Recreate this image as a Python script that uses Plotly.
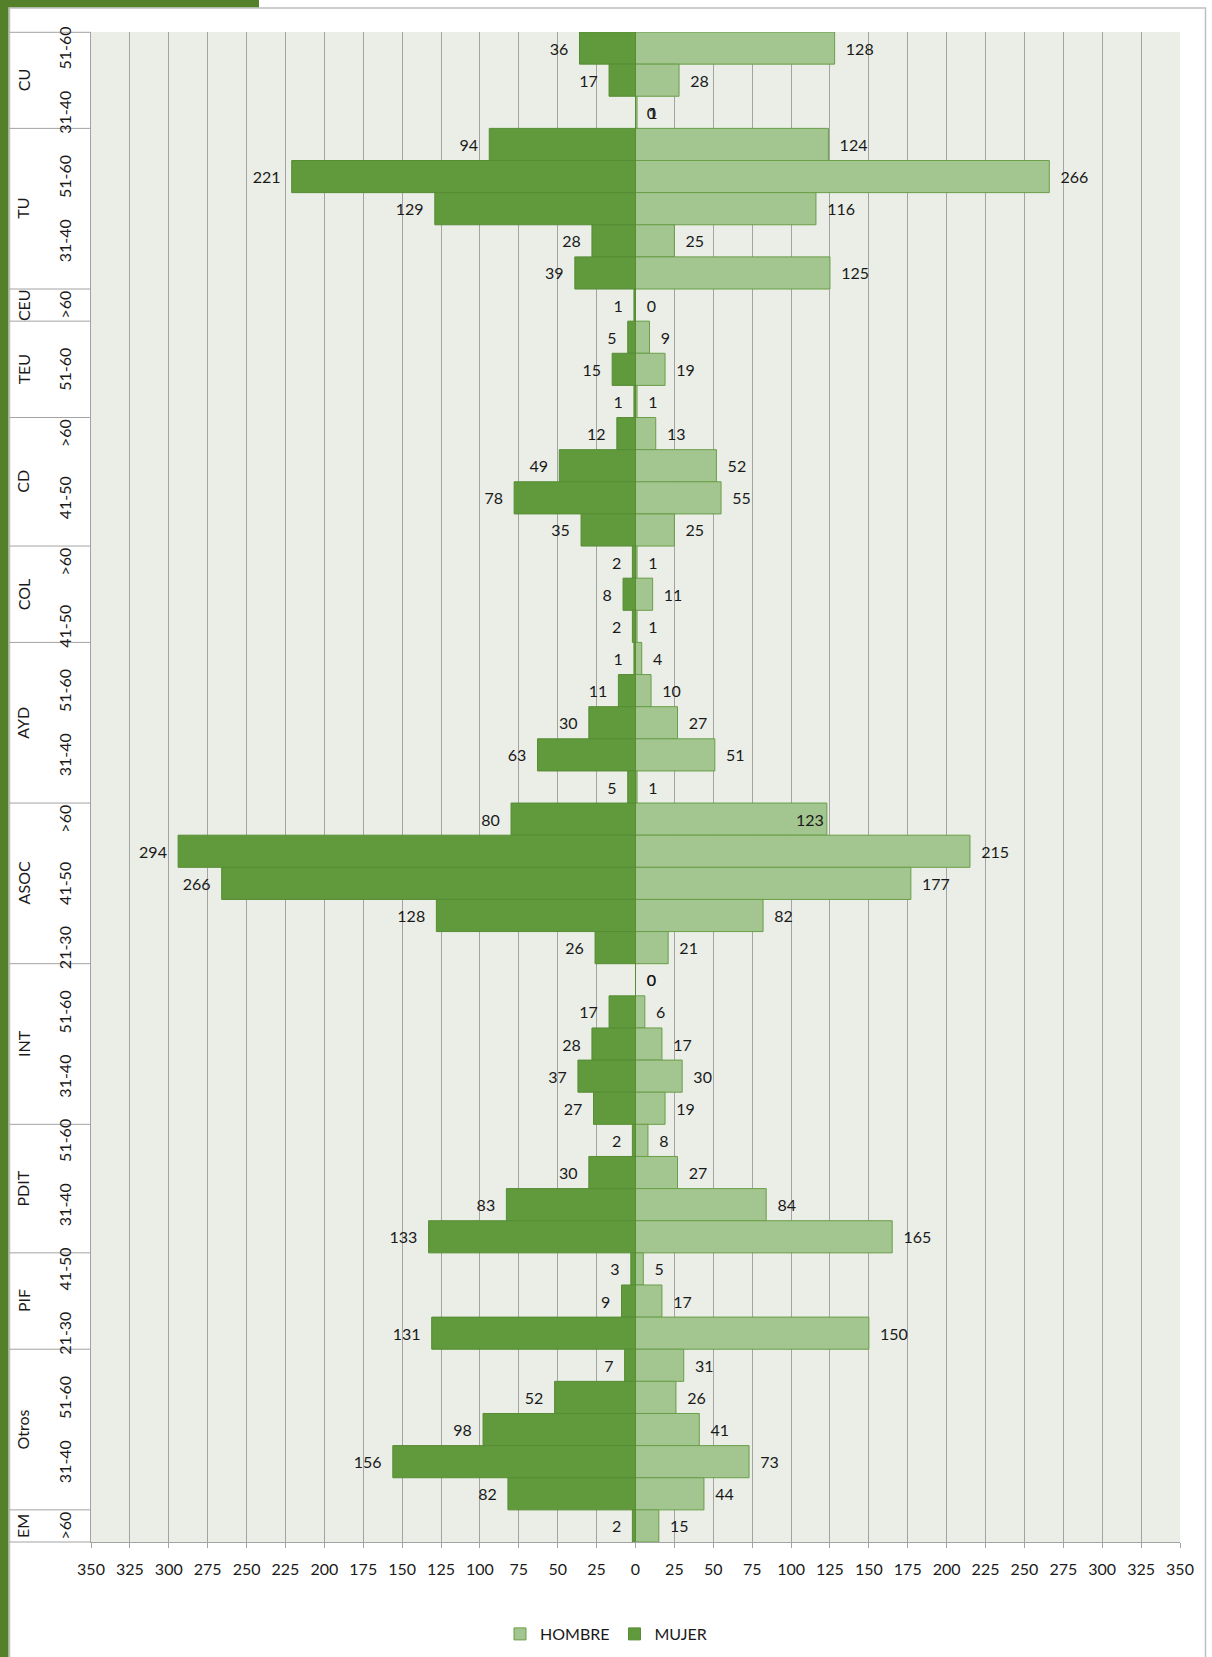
import plotly.graph_objects as go

# ---------------- data (rows listed top to bottom) ----------------
categoria = ["CU", "CU", "CU",
             "TU", "TU", "TU", "TU", "TU",
             "CEU",
             "TEU", "TEU", "TEU",
             "CD", "CD", "CD", "CD",
             "COL", "COL", "COL",
             "AYD", "AYD", "AYD", "AYD", "AYD",
             "ASOC", "ASOC", "ASOC", "ASOC", "ASOC",
             "INT", "INT", "INT", "INT", "INT",
             "PDIT", "PDIT", "PDIT", "PDIT",
             "PIF", "PIF", "PIF",
             "Otros", "Otros", "Otros", "Otros", "Otros",
             "EM"]
edad = ["51-60", "41-50", "31-40",
        ">60", "51-60", "41-50", "31-40", "21-30",
        ">60",
        ">60", "51-60", "41-50",
        ">60", "51-60", "41-50", "31-40",
        ">60", "51-60", "41-50",
        ">60", "51-60", "41-50", "31-40", "21-30",
        ">60", "51-60", "41-50", "31-40", "21-30",
        ">60", "51-60", "41-50", "31-40", "21-30",
        "51-60", "41-50", "31-40", "21-30",
        "41-50", "31-40", "21-30",
        ">60", "51-60", "41-50", "31-40", "21-30",
        ">60"]
mujer = [36, 17, 0,
         94, 221, 129, 28, 39,
         1,
         5, 15, 1,
         12, 49, 78, 35,
         2, 8, 2,
         1, 11, 30, 63, 5,
         80, 294, 266, 128, 26,
         0, 17, 28, 37, 27,
         2, 30, 83, 133,
         3, 9, 131,
         7, 52, 98, 156, 82,
         2]
hombre = [128, 28, 1,
          124, 266, 116, 25, 125,
          0,
          9, 19, 1,
          13, 52, 55, 25,
          1, 11, 1,
          4, 10, 27, 51, 1,
          123, 215, 177, 82, 21,
          0, 6, 17, 30, 19,
          8, 27, 84, 165,
          5, 17, 150,
          31, 26, 41, 73, 44,
          15]
x_ticks = list(range(-350, 351, 25))
x_ticktext = [str(abs(v)) for v in x_ticks]

# ---------------- styling ----------------
W, H = 1212, 1657
PL, PR, PT, PB = 91, 1180, 32, 1542
FONT = "Lato"
FS = 16
TXT = "#1a1a1a"
GRID = "#A3A3A3"
C_MUJER = "#609A3C"
C_MUJER_LINE = "#578C34"
C_HOMBRE = "#A3C58F"
C_HOMBRE_LINE = "#6A9E48"
FRAME_GREEN = "#548029"
NB = "\u00a0\u00a0"


def px(x):
    return (x - PL) / (PR - PL)


def py(y):
    return (PB - y) / (PB - PT)


ycats = [f"{c} {e}" for c, e in zip(categoria, edad)]
n = len(ycats)

hombre_pos = ["inside" if (c == "ASOC" and e == ">60") else "outside"
              for c, e in zip(categoria, edad)]
# zero-valued labels sit on the right of the axis, like the other series
mujer_text = [(NB + str(v)) if v == 0 else (str(v) + NB) for v in mujer]

fig = go.Figure()
fig.add_trace(go.Bar(
    name="HOMBRE", y=ycats, x=hombre, orientation="h",
    marker=dict(color=C_HOMBRE, line=dict(color=C_HOMBRE_LINE, width=1)),
    text=[NB + str(v) for v in hombre], textposition=hombre_pos,
    insidetextanchor="end",
    textfont=dict(family=FONT, size=FS, color=TXT),
    insidetextfont=dict(family=FONT, size=FS, color=TXT),
    outsidetextfont=dict(family=FONT, size=FS, color=TXT),
    constraintext="none", cliponaxis=False, hoverinfo="skip",
))
fig.add_trace(go.Bar(
    name="MUJER", y=ycats, x=[-v for v in mujer], orientation="h",
    marker=dict(color=C_MUJER, line=dict(color=C_MUJER_LINE, width=1)),
    text=mujer_text, textposition="outside",
    textfont=dict(family=FONT, size=FS, color=TXT),
    constraintext="none", cliponaxis=False, hoverinfo="skip",
))

shapes = []
# chart area border
shapes.append(dict(type="rect", xref="paper", yref="paper",
                   x0=px(9.5), x1=px(1205.5), y0=py(1670), y1=py(8),
                   line=dict(color="#BFBFBF", width=1.5), layer="above"))
# green frame
shapes.append(dict(type="rect", xref="paper", yref="paper",
                   x0=px(-2), x1=px(8.5), y0=py(1670), y1=py(-2),
                   fillcolor=FRAME_GREEN, line=dict(width=0), layer="above"))
shapes.append(dict(type="rect", xref="paper", yref="paper",
                   x0=px(-2), x1=px(259), y0=py(7.3), y1=py(-2),
                   fillcolor=FRAME_GREEN, line=dict(width=0), layer="above"))
# label column top and bottom
for yy in (PT + 0.3, PB):
    shapes.append(dict(type="line", xref="paper", yref="paper",
                       x0=px(9.5), x1=0, y0=py(yy), y1=py(yy),
                       line=dict(color=GRID, width=1), layer="above"))
# group dividers
groups = []
for i, c in enumerate(categoria):
    if not groups or groups[-1][0] != c:
        groups.append([c, i, i])
    else:
        groups[-1][2] = i
for g, i0, i1 in groups[:-1]:
    shapes.append(dict(type="line", xref="paper", yref="y",
                       x0=px(9.5), x1=0, y0=i1 + 0.5, y1=i1 + 0.5,
                       line=dict(color=GRID, width=1), layer="above"))

annotations = []
for g, i0, i1 in groups:
    annotations.append(dict(xref="paper", yref="y", x=px(23), y=(i0 + i1) / 2,
                            text=g, textangle=-90, showarrow=False,
                            font=dict(family=FONT, size=FS, color=TXT),
                            xanchor="center", yanchor="middle"))
for i in range(n - 1, -1, -2):
    annotations.append(dict(xref="paper", yref="y", x=px(64.5), y=i,
                            text=edad[i], textangle=-90, showarrow=False,
                            font=dict(family=FONT, size=FS, color=TXT),
                            xanchor="center", yanchor="middle"))

fig.update_layout(
    width=W, height=H,
    margin=dict(l=PL, r=W - PR, t=PT, b=H - PB, pad=0),
    paper_bgcolor="white", plot_bgcolor="#EAEEE7",
    barmode="overlay", bargap=0,
    font=dict(family=FONT, size=FS, color=TXT),
    showlegend=True,
    legend=dict(orientation="h", xref="container", yref="container",
                x=0.5, y=(H - 1634) / H, xanchor="center", yanchor="middle",
                font=dict(family=FONT, size=FS, color=TXT),
                traceorder="normal", bgcolor="rgba(0,0,0,0)"),
    xaxis=dict(range=[-350, 350], tickvals=x_ticks, ticktext=x_ticktext,
               showgrid=True, gridcolor=GRID, gridwidth=1,
               zeroline=False, showline=True, linecolor=GRID, linewidth=1,
               ticks="outside", ticklen=5, tickcolor=GRID, tickwidth=1,
               ticklabelstandoff=8,
               tickfont=dict(family=FONT, size=FS, color=TXT), fixedrange=True),
    yaxis=dict(type="category", categoryorder="array", categoryarray=ycats,
               range=[n - 0.5, -0.5], showticklabels=False, ticks="",
               showgrid=False, zeroline=False, showline=True,
               linecolor=GRID, linewidth=1, fixedrange=True),
    shapes=shapes, annotations=annotations,
)

fig.write_html("out.html",
               config={"displayModeBar": False, "staticPlot": True},
               post_script="document.body.style.margin='0px';"
                           "document.body.style.overflow='hidden';")
